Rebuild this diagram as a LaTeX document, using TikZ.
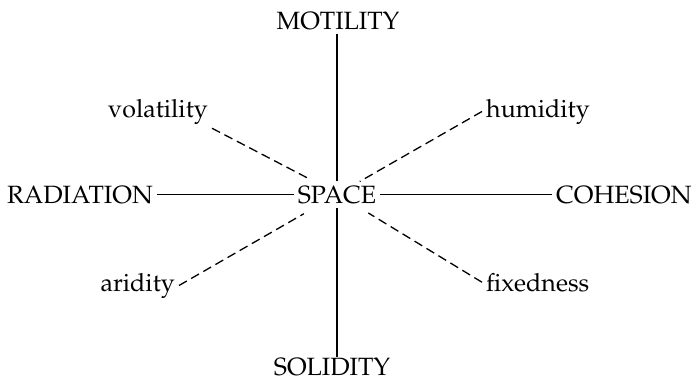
\documentclass[tikz,border=0pt]{standalone}
\usepackage[T1]{fontenc}
\usepackage{mathpazo}
\begin{document}
\begin{tikzpicture}[x=1pt,y=-1pt,
   lbl/.style={inner sep=4pt,font=\fontsize{25}{30}\selectfont},
   axisline/.style={line width=1.3pt},
   dashline/.style={line width=1.3pt,dash pattern=on 9pt off 5pt}]
   \useasboundingbox (0,0) rectangle (696,381);
   %centre
   \node[lbl,anchor=base] (space) at (337,203) {SPACE};
   %axis labels
   \node[lbl,anchor=base] (mot) at (338,29) {MOTILITY};
   \node[lbl,anchor=base,inner sep=2pt] (sol) at (332,375) {SOLIDITY};
   \node[lbl,anchor=base east] (rad) at (157,203) {RADIATION};
   \node[lbl,anchor=base west] (coh) at (552,203) {COHESION};
   %diagonal labels
   \node[lbl,anchor=base east] (vol) at (212,117) {volatility};
   \node[lbl,anchor=base west] (hum) at (482,117) {humidity};
   \node[lbl,anchor=base east] (ari) at (179,291) {aridity};
   \node[lbl,anchor=base west] (fix) at (482,291) {fixedness};
   %axis
   \draw[axisline] (space.north) -- (space.north |- mot.south);
   \draw[axisline] (space.south) -- ([yshift=-2pt]space.south |- sol.north);
   \draw[axisline] (rad) -- (space);
   \draw[axisline] (space) -- (coh);
   %dashed
   \draw[dashline,shorten >=7pt] (vol.south east) -- (space.150);
   \draw[dashline] (hum.west) -- (space.30);
   \draw[dashline,shorten >=12pt] (ari.east) -- (space.210);
   \draw[dashline,shorten >=10pt] (fix.west) -- (space.330);
\end{tikzpicture}
\end{document}
